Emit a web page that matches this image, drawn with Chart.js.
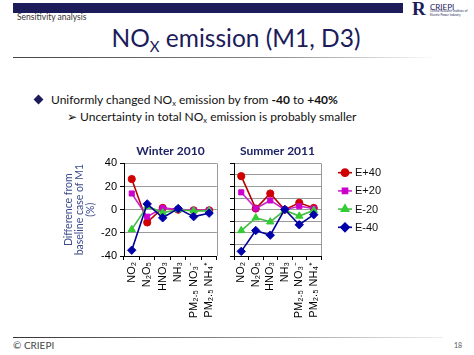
<!DOCTYPE html>
<html>
<head>
<meta charset="utf-8">
<script src="https://cdn.jsdelivr.net/npm/chart.js@4/dist/chart.umd.min.js"></script>
<style>
  html, body { margin:0; padding:0; background:#fff; }
  body { width:474px; height:355px; position:relative; overflow:hidden; font-family: Lato, "Open Sans", sans-serif; }
  .abs { position:absolute; white-space:nowrap; }
  #topbar { left:13px; top:3px; width:390px; height:10px; background:#1c1c5a; }
  #section { left:17px; top:12px; font-size:8.5px; color:#333; }
  #title { left:0; width:472px; text-align:center; top:24px; font-size:24.5px; color:#1c1c5a; line-height:28px; }
  #title sub { font-size:15px; vertical-align:-5px; line-height:0; }
  #rule1 { left:13px; top:57px; width:425px; height:1px; background:linear-gradient(to right,#444 0%,#888 60%,#fff 100%); }
  #b1 { left:33px; top:92px; font-size:12px; color:#111; }
  #b1 .dia { display:inline-block; width:7px; height:7px; background:#1c1c5a; transform:rotate(45deg); margin:0 9px 1px 2px; }
  #b2 { left:67px; top:109px; font-size:12px; color:#111; }
  #b1 sub, #b2 sub { font-size:7.5px; vertical-align:-2px; line-height:0; }
  #rule2 { left:13px; top:337px; width:430px; height:1px; background:linear-gradient(to right,#333 0%,#888 50%,#eee 100%); }
  #foot { left:13px; top:339px; font-size:10px; color:#444; }
  #page { left:454px; top:341px; font-size:7px; color:#555; }
  #logoR { left:412px; top:-2px; font-family:"Liberation Serif", serif; font-weight:bold; font-size:19px; color:#1c1c5a; }
  #logoT { left:430px; top:2px; font-size:8px; color:#1c1c5a; }
  #logoS { left:430px; top:10px; font-size:3px; color:#1c1c5a; line-height:3.5px; }
  canvas { position:absolute; }
</style>
</head>
<body>
<div class="abs" id="topbar"></div>
<div class="abs" id="section">Sensitivity analysis</div>
<div class="abs" id="logoR">R</div>
<div class="abs" id="logoT">CRIEPI</div>
<div class="abs" id="logoS">Central Research Institute of<br>Electric Power Industry</div>
<div class="abs" id="title">NO<sub>X</sub> emission (M1, D3)</div>
<div class="abs" id="rule1"></div>
<div class="abs" id="b1"><span class="dia"></span>Uniformly changed NO<sub>x</sub> emission by from <b>-40</b> to <b>+40%</b></div>
<div class="abs" id="b2">&#10146; Uncertainty in total NO<sub>x</sub> emission is probably smaller</div>
<div class="abs" id="rule2"></div>
<div class="abs" id="foot">&copy; CRIEPI</div>
<div class="abs" id="page">18</div>

<canvas id="winter" width="162" height="190" style="left:63px;top:138px;"></canvas>
<canvas id="summer" width="249" height="190" style="left:225px;top:138px;"></canvas>

<script>
// ---- data ----
const categories = ["NO\u2082", "N\u2082O\u2085", "HNO\u2083", "NH\u2083", "PM\u2082.\u2085 NO\u2083\u207B", "PM\u2082.\u2085 NH\u2084\u207A"];
const seriesNames = ["E+40", "E+20", "E-20", "E-40"];
const panelTitles = ["Winter 2010", "Summer 2011"];
const yTickValues = [-40, -30, -20, -10, 0, 10, 20, 30, 40];
const yAxisTitle = ["Difference from", "baseline case of M1", "(%)"];

const winterEp40 = [26.5, -11, 1.5, 0, -0.5, -0.5];
const winterEp20 = [14, -6, 1.5, 0.3, -0.6, -0.5];
const winterEm20 = [-17, 3, -2.5, 0, -1, -1];
const winterEm40 = [-35, 5, -7, 1, -6, -3];

const summerEp40 = [29, 1, 14, 0, 6, 1.5];
const summerEp20 = [15, 1, 8, 0, 3, 1];
const summerEm20 = [-18, -7, -10.5, -0.5, -5.5, -0.5];
const summerEm40 = [-36, -18, -22, 0.3, -13, -4.3];

// ---- styles ----
const styles = [
  { line: "#b80000", fill: "#d00000", pointStyle: "circle", radius: 3.6, order: 4 },
  { line: "#cc22cc", fill: "#cc00cc", pointStyle: "rect", radius: 3.6, order: 3 },
  { line: "#44bb44", fill: "#33cc33", pointStyle: "triangle", radius: 4.2, order: 2 },
  { line: "#000099", fill: "#0000aa", pointStyle: "rectRot", radius: 4.2, order: 1 }
];

Chart.defaults.animation = false;
Chart.defaults.font.family = "'Liberation Sans', Arial, sans-serif";

function makeDatasets(arrays) {
  return arrays.map((arr, i) => ({
    label: seriesNames[i],
    data: arr,
    borderColor: styles[i].line,
    backgroundColor: styles[i].fill,
    pointBackgroundColor: styles[i].fill,
    pointBorderColor: styles[i].fill,
    pointStyle: styles[i].pointStyle,
    pointRadius: styles[i].radius,
    pointBorderWidth: 1,
    borderWidth: 1.6,
    tension: 0,
    order: styles[i].order
  }));
}

const rightBorder = {
  id: "rightBorder",
  afterDraw(chart) {
    const a = chart.chartArea, c = chart.ctx;
    c.save();
    c.strokeStyle = "#9a9a9a";
    c.lineWidth = 1;
    c.beginPath();
    c.moveTo(Math.round(a.right) + 0.5, a.top);
    c.lineTo(Math.round(a.right) + 0.5, a.bottom);
    c.stroke();
    c.restore();
  }
};

const legendPlugin = {
  id: "sideLegend",
  afterDraw(chart) {
    const c = chart.ctx;
    const x0 = 113, x1 = 127, tx = 130, y0 = 34.7, dy = 18.2;
    chart.data.datasets.forEach((ds, i) => {
      const y = y0 + i * dy;
      c.save();
      c.strokeStyle = ds.borderColor;
      c.lineWidth = 1.6;
      c.beginPath(); c.moveTo(x0, y); c.lineTo(x1, y); c.stroke();
      c.fillStyle = ds.pointBackgroundColor;
      c.strokeStyle = ds.pointBorderColor;
      Chart.helpers.drawPoint(c, { pointStyle: ds.pointStyle, radius: ds.pointRadius, borderWidth: 1, rotation: 0 }, (x0 + x1) / 2, y);
      c.fillStyle = "#111";
      c.font = "11px 'Liberation Sans', Arial, sans-serif";
      c.textBaseline = "middle";
      c.fillText(ds.label, tx, y + 0.5);
      c.restore();
    });
  }
};

function makeChart(id, arrays, title, isLeft) {
  const plugins = [rightBorder];
  if (!isLeft) plugins.push(legendPlugin);
  return new Chart(document.getElementById(id), {
    type: "line",
    data: { labels: categories, datasets: makeDatasets(arrays) },
    plugins: plugins,
    options: {
      responsive: false,
      devicePixelRatio: 1,
      layout: { padding: { left: 0, right: isLeft ? 5 : 153, top: 0, bottom: 0 } },
      plugins: {
        legend: { display: false },
        tooltip: { enabled: false },
        title: {
          display: true, text: title, color: "#1f2366", fullSize: false,
          font: { family: "Lato, 'Open Sans', sans-serif", size: 12, weight: "bold" },
          padding: { top: 5.5, bottom: 5.5 }
        }
      },
      scales: {
        x: {
          type: "category",
          offset: true,
          grid: { offset: true, drawOnChartArea: false, drawTicks: true, tickLength: 4, tickColor: "#000" },
          border: { display: true, color: "#000", width: 1 },
          ticks: { minRotation: 90, maxRotation: 90, autoSkip: false, color: "#000", font: { size: 11 }, padding: 2 },
          afterFit(s) { s.height = 72; }
        },
        y: {
          min: -40, max: 40,
          afterBuildTicks(s) { s.ticks = yTickValues.map(v => ({ value: v })); },
          grid: { color: "#9a9a9a", tickColor: "#000", tickLength: 4, drawTicks: true },
          border: { display: true, color: "#000", width: 1 },
          ticks: { display: isLeft, color: "#000", font: { size: 11 }, padding: 3 },
          title: {
            display: isLeft, text: yAxisTitle, color: "#3b4a8c",
            font: { family: "Lato, 'Open Sans', sans-serif", size: 10.5, lineHeight: 1.05 },
            padding: { top: 0, bottom: 4 }
          },
          afterFit(s) { s.width = isLeft ? 61 : 9; }
        }
      }
    }
  });
}

makeChart("winter", [winterEp40, winterEp20, winterEm20, winterEm40], panelTitles[0], true);
makeChart("summer", [summerEp40, summerEp20, summerEm20, summerEm40], panelTitles[1], false);
</script>
</body>
</html>
